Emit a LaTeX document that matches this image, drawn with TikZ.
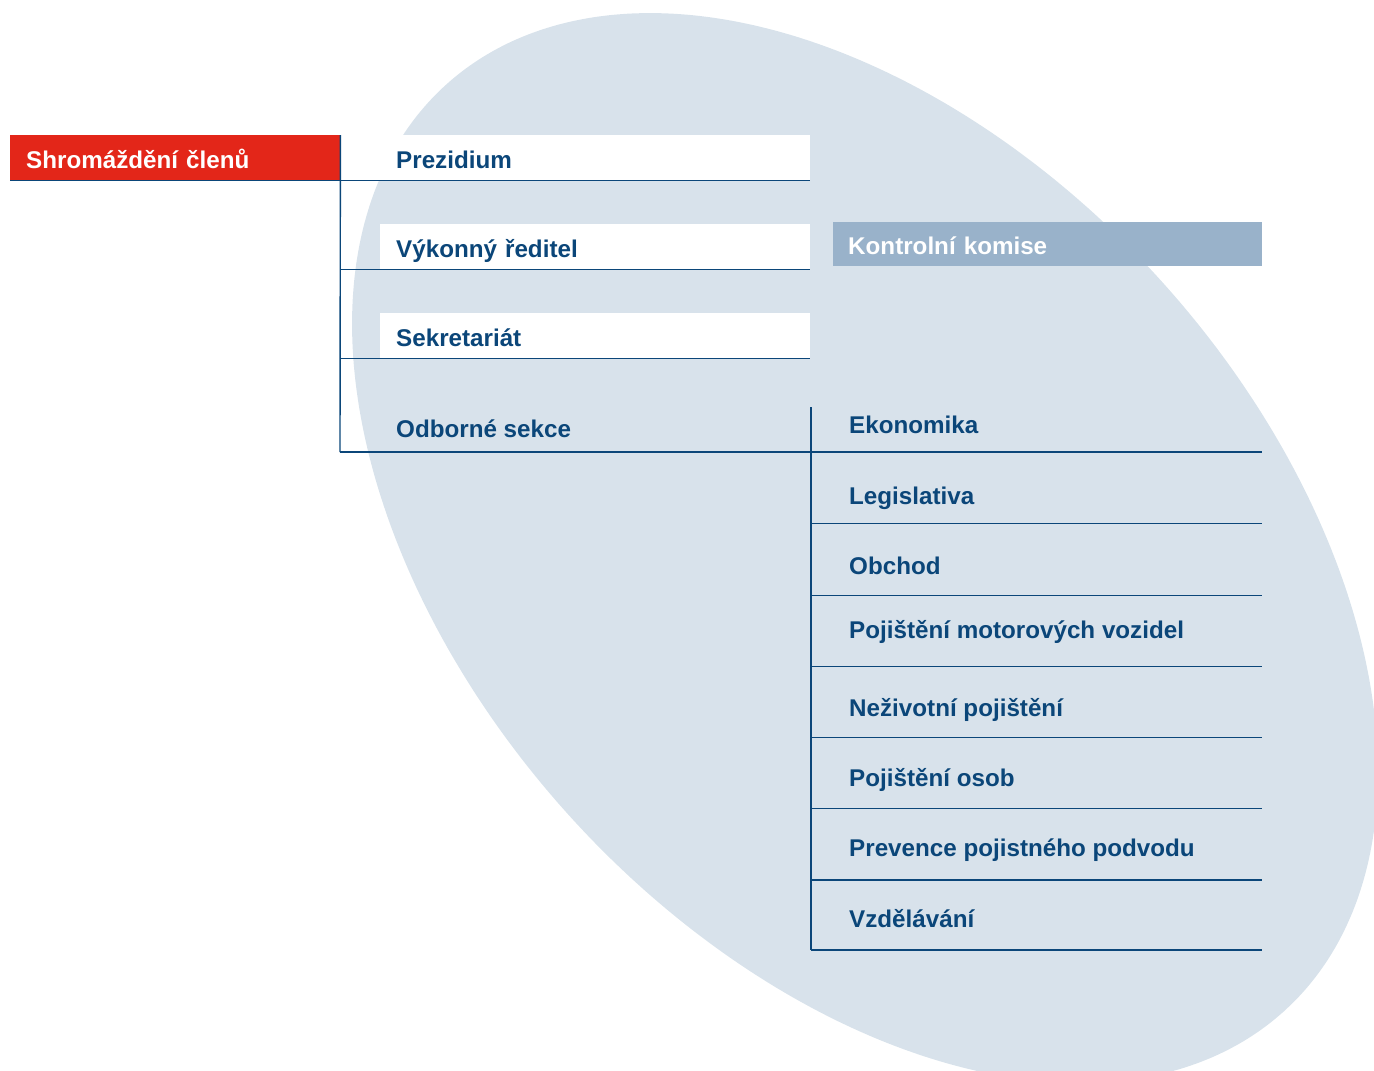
\documentclass[tikz,border=0pt]{standalone}
\usepackage{fontspec}
\setmainfont{Liberation Sans}
\definecolor{navy}{HTML}{0B4679}
\definecolor{ellc}{HTML}{D8E2EB}
\definecolor{redc}{HTML}{E32619}
\definecolor{kkc}{HTML}{99B2CA}
\begin{document}
\begin{tikzpicture}[x=1pt,y=-1pt,
  txt/.style={font=\fontsize{24.2}{29}\selectfont\bfseries},
  lbl/.style={txt, text=navy, inner sep=0pt, anchor=base west},
  boxn/.style={txt, anchor=north west, inner ysep=0pt, text height=21pt, text depth=0pt, align=left},
  ln/.style={draw=navy, line width=1.4pt}]
\useasboundingbox (0,0) rectangle (1374,1071);
\clip (0,0) rectangle (1374,1071);
% background ellipse
\fill[ellc] plot[domain=0:360, samples=150, smooth cycle]
  ({865+624.7*cos(\x)*cos(47.86)-398.9*sin(\x)*sin(47.86)},
   {548+624.7*cos(\x)*sin(47.86)+398.9*sin(\x)*cos(47.86)});
% boxes
\node[boxn, fill=redc, text=white, minimum height=45pt, inner xsep=16pt, text width=298pt] (root) at (10,135) {Shromáždění členů};
\node[boxn, fill=white, text=navy, minimum height=45pt, inner xsep=56pt, text width=358pt] (prez) at (340,135) {Prezidium};
\node[boxn, fill=white, text=navy, minimum height=45pt, inner xsep=16pt, text width=398pt] (vyk) at (380,224) {Výkonný ředitel};
\node[boxn, fill=white, text=navy, minimum height=45pt, inner xsep=16pt, text width=398pt] (sekr) at (380,313) {Sekretariát};
\node[boxn, fill=kkc, text=white, minimum height=44pt, inner xsep=15pt, text width=399pt] (kk) at (833,222) {Kontrolní komise};
\node[lbl] (odb) at (396,437) {Odborné sekce};
% right column labels
\node[lbl] (ek) at (849,433) {Ekonomika};
\node[lbl] (leg) at (849,504.3) {Legislativa};
\node[lbl] (obch) at (849,574) {Obchod};
\node[lbl] (pmv) at (849,638.3) {Pojištění motorových vozidel};
\node[lbl] (nez) at (849,716.7) {Neživotní pojištění};
\node[lbl] (pos) at (849,786.7) {Pojištění osob};
\node[lbl] (prev) at (849,856.7) {Prevence pojistného podvodu};
\node[lbl] (vzd) at (849,927) {Vzdělávání};
% coordinates
\coordinate (odbL) at (340,452);
\coordinate (colTop) at (811,407);
\coordinate (colBot) at (811,950);
\coordinate (ekR) at (1262,452);
\foreach \n/\y in {leg/523.3, obch/595.3, pmv/666.7, nez/737.3, pos/808.3, prev/880, vzd/950}{
  \coordinate (\n L) at (811,\y);
  \coordinate (\n R) at (1262,\y);
}
% connectors
\draw[ln] (root.south west) -- (prez.south east);
\draw[ln] (root.north east) -- (odbL);
\draw[ln] (root.east |- vyk.south) -- (vyk.south east);
\draw[ln] (root.east |- sekr.south) -- (sekr.south east);
\draw[ln] (odbL) -- (ekR);
\draw[ln] (colTop) -- (colBot);
\foreach \n in {leg, obch, pmv, nez, pos, prev, vzd}{
  \draw[ln] (\n L) -- (\n R);
}
\end{tikzpicture}
\end{document}
